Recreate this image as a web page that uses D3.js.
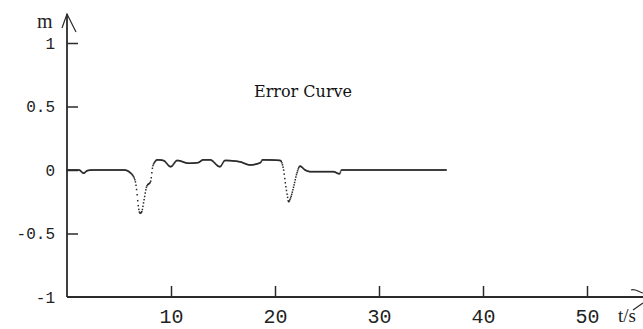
<!DOCTYPE html>
<html>
<head>
<meta charset="utf-8">
<script src="https://cdn.jsdelivr.net/npm/d3@7"></script>
<style>
  body { margin: 0; background: #fff; }
  svg { display: block; }
</style>
</head>
<body>
<div id="chart"></div>
<script>
// error curve, values
var times  = [0, 1.15, 1.6, 1.95, 2.5, 5.5, 6.06, 6.54, 6.7, 6.85, 7.02, 7.18, 7.4, 7.66, 8.04, 8.24, 8.46, 8.68,
              9.26, 9.97, 10.6, 11.7, 12.6, 13.1, 13.75, 14.7, 15.2, 16.6, 17.6, 18.6, 18.8, 20.5, 20.8, 21.0,
              21.2, 21.3, 21.5, 21.8, 22.1, 22.4, 22.9, 23.4, 24.0, 24.6, 25.6, 26.2, 26.4, 36.5];
var errors = [0, 0, -0.025, -0.005, 0, 0, -0.02, -0.08, -0.16, -0.28, -0.34, -0.33, -0.24, -0.13, -0.09, 0.026, 0.065, 0.08,
              0.075, 0.026, 0.075, 0.053, 0.058, 0.08, 0.08, 0.026, 0.075, 0.065, 0.04, 0.058, 0.08, 0.075, 0.013, -0.105,
              -0.21, -0.25, -0.22, -0.13, -0.026, 0.03, 0, -0.013, -0.013, -0.013, -0.013, -0.03, 0, 0];
var xTicks = [10, 20, 30, 40, 50];
var yTicks = [-1, -0.5, 0, 0.5, 1];

var width = 643, height = 329;
var ink = '#2b2b2b';

var svg = d3.select('#chart').append('svg')
  .attr('width', width).attr('height', height);

var x = d3.scaleLinear().domain([0, 50]).range([67, 587]);
var y = d3.scaleLinear().domain([-1, 1]).range([297, 43]);

// axes lines with arrows
svg.append('line').attr('x1', x(0)).attr('y1', y(-1)).attr('x2', x(0)).attr('y2', 14)
  .attr('stroke', ink).attr('stroke-width', 1.8);
svg.append('path').attr('d', 'M62,28 L67,14 L76,32')
  .attr('fill', 'none').attr('stroke', ink).attr('stroke-width', 1.2);
svg.append('line').attr('x1', x(0)).attr('y1', y(-1)).attr('x2', 643).attr('y2', y(-1))
  .attr('stroke', ink).attr('stroke-width', 1.8);
svg.append('path').attr('d', 'M631,290 C635,288 638,292 643,293 M633,310 L643,303')
  .attr('fill', 'none').attr('stroke', ink).attr('stroke-width', 1.2);

var xAxis = svg.append('g')
  .attr('transform', 'translate(0,' + y(-1) + ')')
  .call(d3.axisBottom(x).tickValues(xTicks).tickSize(-11).tickPadding(12).tickFormat(function(d) { return String(d); }));
var yAxis = svg.append('g')
  .attr('transform', 'translate(' + x(0) + ',0)')
  .call(d3.axisLeft(y).tickValues(yTicks).tickSize(-11).tickPadding(12).tickFormat(function(d) { return String(d); }));

[xAxis, yAxis].forEach(function(g) {
  g.select('.domain').remove();
  g.selectAll('.tick line').attr('stroke', ink).attr('stroke-width', 1.5);
  g.selectAll('.tick text').attr('fill', '#222').attr('font-family', 'Liberation Mono');
});
xAxis.selectAll('.tick text').attr('font-size', 20);
yAxis.selectAll('.tick text').attr('font-size', 16);
yAxis.selectAll('.tick').filter(function(d) { return d === -1; }).select('line').remove();

// axis names
svg.append('text').attr('x', 37).attr('y', 28).text('m')
  .attr('font-family', 'Liberation Serif').attr('font-size', 20).attr('fill', '#222');
svg.append('text').attr('x', 618).attr('y', 322).text('t/s')
  .attr('font-family', 'Liberation Serif').attr('font-size', 19).attr('fill', '#222');

// title
svg.append('text').attr('x', 254).attr('y', 97).text('Error Curve')
  .attr('font-family', 'DejaVu Serif').attr('font-size', 16).attr('fill', '#111');

// curve: build the path, then plot it as fine samples like the original point plot
var pts = times.map(function(t, i) { return [t, errors[i]]; });
var line = d3.line()
  .x(function(d) { return x(d[0]); })
  .y(function(d) { return y(d[1]); })
  .curve(d3.curveMonotoneX);

var guide = svg.append('path').attr('d', line(pts)).attr('fill', 'none').attr('stroke', 'none');
var node = guide.node();
var total = node.getTotalLength();
var samples = [];
var lastX = -Infinity;
for (var s = 0; s <= total; s += 0.25) {
  var p = node.getPointAtLength(s);
  if (p.x - lastX >= 0.55) {
    samples.push(p);
    lastX = p.x;
  }
}
svg.append('g').selectAll('rect')
  .data(samples)
  .enter()
    .append('rect')
    .attr('x', function(d) { return d.x - 0.75; })
    .attr('y', function(d) { return d.y - 0.75; })
    .attr('width', 1.5)
    .attr('height', 1.5)
    .attr('fill', ink);
</script>
</body>
</html>
